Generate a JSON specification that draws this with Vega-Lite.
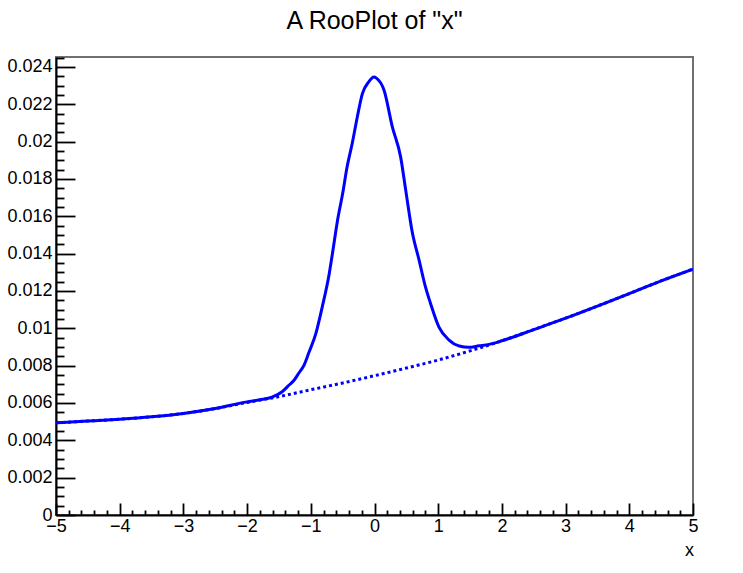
{
  "$schema": "https://vega.github.io/schema/vega-lite/v6.json",
  "width": 637,
  "height": 458,
  "autosize": {"type": "none"},
  "padding": {"left": 56, "top": 57, "right": 50, "bottom": 58},
  "background": "white",
  "title": {
    "text": "A RooPlot of \"x\"",
    "font": "Liberation Sans",
    "fontSize": 25,
    "fontWeight": "normal",
    "color": "black",
    "anchor": "middle",
    "frame": "group",
    "baseline": "alphabetic",
    "offset": 3
  },
  "config": {
    "view": {"stroke": "#707070", "strokeWidth": 2},
    "axis": {
      "grid": false,
      "labelFont": "Liberation Sans",
      "labelFontSize": 18,
      "labelColor": "black",
      "tickColor": "black",
      "tickWidth": 1.8,
      "domainColor": "black",
      "domainWidth": 2,
      "labelFlush": false,
      "labelOverlap": false,
      "titleFont": "Liberation Sans",
      "titleFontSize": 18,
      "titleFontWeight": "normal",
      "titleColor": "black"
    }
  },
  "resolve": {"axis": {"x": "independent", "y": "independent"}},
  "layer": [
    {
      "data": {"values": [
        {"x": -5.0, "y": 0.00494}, {"x": -4.5, "y": 0.00503}, {"x": -4.0, "y": 0.00513},
        {"x": -3.5, "y": 0.00526}, {"x": -3.0, "y": 0.00544}, {"x": -2.5, "y": 0.00570},
        {"x": -2.0, "y": 0.00603}, {"x": -1.5, "y": 0.00634}, {"x": -1.0, "y": 0.00671},
        {"x": -0.5, "y": 0.00707}, {"x": 0.0, "y": 0.00746}, {"x": 0.5, "y": 0.00787},
        {"x": 1.0, "y": 0.00830}, {"x": 1.5, "y": 0.00879}, {"x": 2.0, "y": 0.00933},
        {"x": 2.5, "y": 0.00993}, {"x": 3.0, "y": 0.01054}, {"x": 3.5, "y": 0.01119},
        {"x": 4.0, "y": 0.01186}, {"x": 4.5, "y": 0.01254}, {"x": 5.0, "y": 0.01317}
      ]},
      "mark": {"type": "line", "color": "#0000ff", "strokeWidth": 3, "strokeDash": [3, 3], "strokeCap": "butt", "interpolate": "monotone", "clip": true},
      "encoding": {
        "x": {
          "field": "x", "type": "quantitative",
          "scale": {"domain": [-5, 5], "nice": false, "zero": false},
          "axis": {
            "orient": "bottom", "title": null, "labels": false, "domain": false, "tickSize": -5,
            "values": [-4.8,-4.6,-4.4,-4.2,-3.8,-3.6,-3.4,-3.2,-2.8,-2.6,-2.4,-2.2,-1.8,-1.6,-1.4,-1.2,-0.8,-0.6,-0.4,-0.2,0.2,0.4,0.6,0.8,1.2,1.4,1.6,1.8,2.2,2.4,2.6,2.8,3.2,3.4,3.6,3.8,4.2,4.4,4.6,4.8]
          }
        },
        "y": {
          "field": "y", "type": "quantitative",
          "scale": {"domain": [0, 0.02453], "nice": false, "zero": false},
          "axis": {
            "orient": "left", "title": null, "labels": false, "domain": false, "tickSize": -8,
            "values": [0.0005,0.0015,0.0025,0.0035,0.0045,0.0055,0.0065,0.0075,0.0085,0.0095,0.0105,0.0115,0.0125,0.0135,0.0145,0.0155,0.0165,0.0175,0.0185,0.0195,0.0205,0.0215,0.0225,0.0235,0.001,0.003,0.005,0.007,0.009,0.011,0.013,0.015,0.017,0.019,0.021,0.023,0.0245]
          }
        }
      }
    },
    {
      "data": {"values": [
        {"x": -5.0, "y": 0.00494}, {"x": -4.5, "y": 0.00503}, {"x": -4.0, "y": 0.00513},
        {"x": -3.5, "y": 0.00526}, {"x": -3.0, "y": 0.00544}, {"x": -2.5, "y": 0.00570},
        {"x": -2.0, "y": 0.00606}, {"x": -1.8, "y": 0.00617}, {"x": -1.61, "y": 0.00631},
        {"x": -1.45, "y": 0.00660}, {"x": -1.34, "y": 0.00696}, {"x": -1.26, "y": 0.00723},
        {"x": -1.19, "y": 0.00759}, {"x": -1.11, "y": 0.00800}, {"x": -1.03, "y": 0.00870},
        {"x": -0.92, "y": 0.00973}, {"x": -0.82, "y": 0.01115}, {"x": -0.71, "y": 0.01294},
        {"x": -0.66, "y": 0.01401}, {"x": -0.58, "y": 0.01579}, {"x": -0.50, "y": 0.01722},
        {"x": -0.43, "y": 0.01865}, {"x": -0.35, "y": 0.01990}, {"x": -0.27, "y": 0.02132},
        {"x": -0.19, "y": 0.02257}, {"x": -0.09, "y": 0.02320}, {"x": -0.01, "y": 0.02346},
        {"x": 0.03, "y": 0.02340}, {"x": 0.15, "y": 0.02275}, {"x": 0.28, "y": 0.02079},
        {"x": 0.41, "y": 0.01918}, {"x": 0.49, "y": 0.01740}, {"x": 0.59, "y": 0.01520},
        {"x": 0.70, "y": 0.01365}, {"x": 0.80, "y": 0.01222}, {"x": 0.88, "y": 0.01133},
        {"x": 1.01, "y": 0.01008}, {"x": 1.17, "y": 0.00937}, {"x": 1.33, "y": 0.00905},
        {"x": 1.48, "y": 0.00898}, {"x": 1.64, "y": 0.00906}, {"x": 1.80, "y": 0.00914},
        {"x": 2.0, "y": 0.00933}, {"x": 2.5, "y": 0.00993}, {"x": 3.0, "y": 0.01054},
        {"x": 3.5, "y": 0.01119}, {"x": 4.0, "y": 0.01186}, {"x": 4.5, "y": 0.01254},
        {"x": 5.0, "y": 0.01317}
      ]},
      "mark": {"type": "line", "color": "#0000ff", "strokeWidth": 3, "interpolate": "monotone", "clip": true},
      "encoding": {
        "x": {
          "field": "x", "type": "quantitative",
          "scale": {"domain": [-5, 5], "nice": false, "zero": false},
          "axis": {
            "orient": "bottom", "title": "x", "format": "~g", "tickSize": -12, "labelPadding": 14,
            "values": [-5,-4,-3,-2,-1,0,1,2,3,4,5],
            "titleAnchor": "end", "titleAlign": "right", "titleBaseline": "alphabetic",
            "titleX": 637.5, "titleY": 40
          }
        },
        "y": {
          "field": "y", "type": "quantitative",
          "scale": {"domain": [0, 0.02453], "nice": false, "zero": false},
          "axis": {
            "orient": "left", "title": null, "format": "~g", "tickSize": -19, "labelPadding": 23,
            "values": [0,0.002,0.004,0.006,0.008,0.01,0.012,0.014,0.016,0.018,0.02,0.022,0.024]
          }
        }
      }
    }
  ]
}
